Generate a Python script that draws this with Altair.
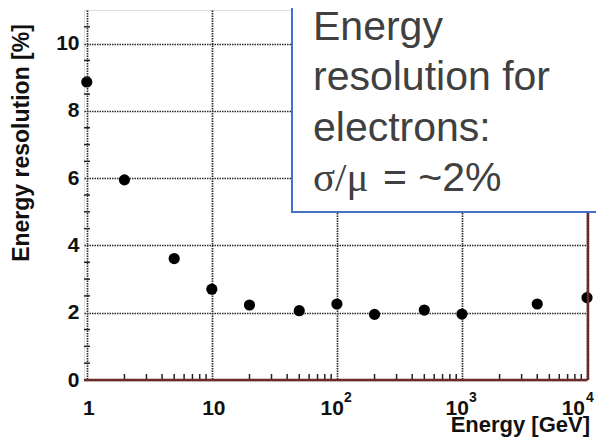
import altair as alt
import pandas as pd

# ---- data ----
energy = [1, 2, 5, 10, 20, 50, 100, 200, 500, 1000, 4000, 10000]
resolution = [8.86, 5.95, 3.61, 2.70, 2.23, 2.06, 2.26, 1.95, 2.08, 1.96, 2.26, 2.45]

x_major = [1, 10, 100, 1000, 10000]
x_minor = [2, 3, 4, 5, 6, 7, 8, 9, 20, 30, 40, 50, 60, 70, 80, 90,
           200, 300, 400, 500, 600, 700, 800, 900,
           2000, 3000, 4000, 5000, 6000, 7000, 8000, 9000]
y_major = [0, 2, 4, 6, 8, 10]
y_minor = [0.5, 1, 1.5, 2.5, 3, 3.5, 4.5, 5, 5.5, 6.5, 7, 7.5, 8.5, 9, 9.5, 10.5]

plain_vals = [1, 10]
plain_labels = ["1", "10"]
pow_vals = [100, 1000]
pow_exps = ["2", "3"]
last_val = [10000]
last_exp = ["4"]

box_lines = ["Energy", "resolution for", "electrons:"]
box_sym = "σ/μ"
box_rest = "= ~2%"
x_title = "Energy [GeV]"
y_title = "Energy resolution [%]"

W, H = 503, 370
FONT = "Liberation Sans"
GRID = "#2a2a2a"
FRAME_RED = "#6b2b2b"

xscale = alt.Scale(type="log", domain=[0.95, 10000])
yscale = alt.Scale(domain=[0, 11])
xaxis = alt.Axis(values=x_major, grid=True, labels=False, ticks=False, domain=False, title=None,
                 gridDash=[1.5, 1], gridColor=GRID, gridWidth=1.7, gridOpacity=1)
yaxis = alt.Axis(values=y_major, grid=True, ticks=False, domain=False, title=None,
                 labelFont=FONT, labelFontSize=21, labelFontWeight="bold", labelColor="#111",
                 labelPadding=5, gridDash=[1.5, 1], gridColor=GRID, gridWidth=1.7, gridOpacity=1)

df = pd.DataFrame({"E": energy, "R": resolution})
one = pd.DataFrame({"a": [0]})

points = alt.Chart(df).mark_circle(size=125, color="black", opacity=1, clip=False).encode(
    x=alt.X("E:Q", scale=xscale, axis=xaxis),
    y=alt.Y("R:Q", scale=yscale, axis=yaxis),
)

xminor = alt.Chart(pd.DataFrame({"v": x_minor})).mark_rule(color="#222", strokeWidth=1.5).encode(
    x=alt.X("v:Q", scale=xscale, axis=xaxis),
    y=alt.value(H), y2=alt.value(H - 6),
)
yminor = alt.Chart(pd.DataFrame({"v": y_minor})).mark_rule(color="#222", strokeWidth=1.5).encode(
    y=alt.Y("v:Q", scale=yscale, axis=yaxis),
    x=alt.value(0), x2=alt.value(6),
)

bottom_rule = alt.Chart(one).mark_rule(color=FRAME_RED, strokeWidth=2.5).encode(
    x=alt.value(0), x2=alt.value(W), y=alt.value(H))
right_rule = alt.Chart(one).mark_rule(color=FRAME_RED, strokeWidth=2.5).encode(
    x=alt.value(W + 1), y=alt.value(0), y2=alt.value(H))

lbl_style = dict(font=FONT, fontSize=21, fontWeight="bold", color="#111", baseline="alphabetic")
plain = alt.Chart(pd.DataFrame({"v": plain_vals, "t": plain_labels})).mark_text(
    align="center", dx=2, **lbl_style).encode(
    x=alt.X("v:Q", scale=xscale, axis=xaxis), y=alt.value(405), text="t:N")
pow_base = alt.Chart(pd.DataFrame({"v": pow_vals})).mark_text(
    align="right", dx=7, **lbl_style).encode(
    x=alt.X("v:Q", scale=xscale, axis=xaxis), y=alt.value(405), text=alt.value("10"))
pow_exp = alt.Chart(pd.DataFrame({"v": pow_vals, "e": pow_exps})).mark_text(
    align="left", dx=7, font=FONT, fontSize=14, fontWeight="bold", color="#111",
    baseline="alphabetic").encode(
    x=alt.X("v:Q", scale=xscale, axis=xaxis), y=alt.value(392), text="e:N")
last_base = alt.Chart(pd.DataFrame({"v": last_val})).mark_text(
    align="right", dx=-2, **lbl_style).encode(
    x=alt.X("v:Q", scale=xscale, axis=xaxis), y=alt.value(405), text=alt.value("10"))
last_exp_t = alt.Chart(pd.DataFrame({"v": last_val, "e": last_exp})).mark_text(
    align="left", dx=-1, font=FONT, fontSize=14, fontWeight="bold", color="#111",
    baseline="alphabetic").encode(
    x=alt.X("v:Q", scale=xscale, axis=xaxis), y=alt.value(392), text="e:N")

xt = alt.Chart(pd.DataFrame({"t": [x_title]})).mark_text(
    align="right", font=FONT, fontSize=22, fontWeight="bold", color="#111",
    baseline="alphabetic").encode(x=alt.value(506), y=alt.value(422), text="t:N")
yt = alt.Chart(pd.DataFrame({"t": [y_title]})).mark_text(
    align="center", angle=270, font=FONT, fontSize=23, fontWeight="bold", color="#111",
    baseline="alphabetic").encode(x=alt.value(-55), y=alt.value(133), text="t:N")

box = alt.Chart(one).mark_rect(fill="white", stroke="#4472C4", strokeWidth=2).encode(
    x=alt.value(208), x2=alt.value(720), y=alt.value(-40), y2=alt.value(202))
box_text = alt.Chart(pd.DataFrame({"t": ["\n".join(box_lines)]})).mark_text(
    align="left", baseline="alphabetic", font=FONT, fontSize=41, color="#404040",
    lineBreak="\n", lineHeight=50.5).encode(x=alt.value(229), y=alt.value(29.5), text="t:N")
box_sym_t = alt.Chart(pd.DataFrame({"t": [box_sym]})).mark_text(
    align="left", baseline="alphabetic", font="Liberation Serif", fontSize=41,
    color="#404040").encode(x=alt.value(229), y=alt.value(181), text="t:N")
box_rest_t = alt.Chart(pd.DataFrame({"t": [box_rest]})).mark_text(
    align="left", baseline="alphabetic", font=FONT, fontSize=41,
    color="#404040").encode(x=alt.value(299), y=alt.value(181), text="t:N")

chart = alt.layer(
    points, xminor, yminor, bottom_rule, right_rule,
    plain, pow_base, pow_exp, last_base, last_exp_t, xt, yt,
    box, box_text, box_sym_t, box_rest_t,
).properties(
    width=W, height=H,
    autosize=alt.AutoSizeParams(type="none"),
    padding={"left": 76, "top": 2, "right": 9, "bottom": 58},
).configure_view(stroke="#333", strokeWidth=2).configure(background="white")

chart.save("out.html", embed_options={"renderer": "svg", "actions": False})
